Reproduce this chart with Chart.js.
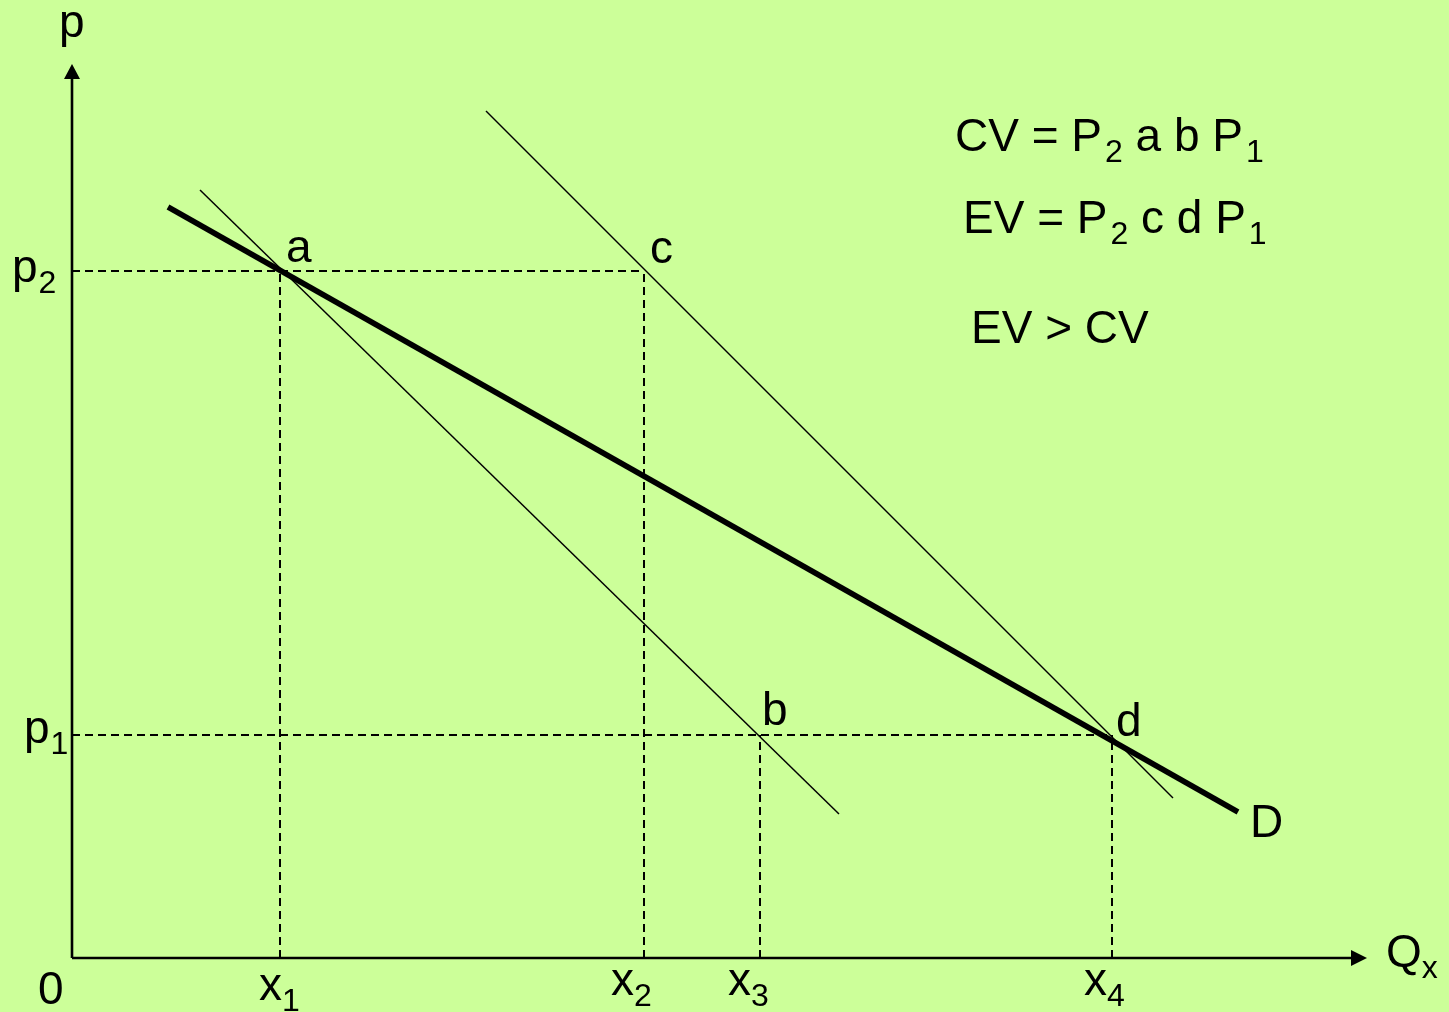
<!DOCTYPE html>
<html>
<head>
<meta charset="utf-8">
<script src="https://cdn.jsdelivr.net/npm/chart.js@4/dist/chart.umd.min.js"></script>
<style>
  html, body { margin: 0; padding: 0; background: #CCFF99; }
  #wrap { width: 1449px; height: 1012px; position: relative; }
</style>
</head>
<body>
<div id="wrap"><canvas id="c"></canvas></div>
<script>
// ---- Data (diagram units, origin at axis origin) ----
const axisQEnd = 1295;           // end of quantity axis (arrow tip)
const axisPEnd = 894;            // end of price axis (arrow tip)

const demandQ = [96, 1166];      // demand curve D endpoints
const demandP = [751, 146];

const compLowQ = [128, 767];     // line through a and b
const compLowP = [768, 144];

const compHighQ = [414, 1101];   // line through c and d
const compHighP = [847, 160];

const pointNames = ['a', 'b', 'c', 'd'];
const pointQ = [208, 688, 572, 1040];
const pointP = [687, 223, 687, 223];

const priceNames = ['p', 'p'];   // p2, p1
const priceSubs = ['2', '1'];
const priceLevels = [687, 223];
const priceExtent = [572, 1040]; // dashed guide reaches c / d

const quantityNames = ['x', 'x', 'x', 'x'];
const quantitySubs = ['1', '2', '3', '4'];
const quantityLevels = [208, 572, 688, 1040];
const quantityHeights = [687, 687, 223, 223];

const noteLines = [
  [['CV = P', 0], ['2', 1], [' a b P', 0], ['1', 1]],
  [['EV = P', 0], ['2', 1], [' c d P', 0], ['1', 1]],
  [['EV > CV', 0]]
];

// ---- Build datasets ----
const pairs = (qs, ps) => qs.map((q, i) => ({ x: q, y: ps[i] }));
const datasets = [];
const thin = { borderColor: '#000', borderWidth: 1.5, showLine: true, pointRadius: 0, fill: false, tension: 0 };
const dashed = { borderColor: '#000', borderWidth: 2, borderDash: [8, 5], showLine: true, pointRadius: 0, fill: false, tension: 0 };

priceLevels.forEach((p, i) => datasets.push(Object.assign({ data: pairs([0, priceExtent[i]], [p, p]) }, dashed)));
quantityLevels.forEach((q, i) => datasets.push(Object.assign({ data: pairs([q, q], [0, quantityHeights[i]]) }, dashed)));
datasets.push(Object.assign({ data: pairs(compLowQ, compLowP) }, thin));
datasets.push(Object.assign({ data: pairs(compHighQ, compHighP) }, thin));
datasets.push(Object.assign({ data: pairs(demandQ, demandP) }, thin, { borderWidth: 5.5 }));
// axes
datasets.push(Object.assign({ data: pairs([0, axisQEnd - 12], [0, 0]) }, thin, { borderWidth: 2.6 }));
datasets.push(Object.assign({ data: pairs([0, 0], [0, axisPEnd - 12]) }, thin, { borderWidth: 2.6 }));

// ---- Label drawing ----
const FONT = '"Liberation Sans", Arial, sans-serif';
const MAIN = 46, SUB = 32, SUBDROP = 11;

function drawRich(ctx, x, y, parts, subGap) {
  let cx = x;
  parts.forEach(([t, isSub]) => {
    if (isSub) cx += (subGap || 0);
    ctx.font = (isSub ? SUB : MAIN) + 'px ' + FONT;
    ctx.fillText(t, cx, y + (isSub ? SUBDROP : 0));
    cx += ctx.measureText(t).width;
  });
}

const labelPlugin = {
  id: 'labels',
  beforeDraw(chart) {
    const ctx = chart.ctx;
    ctx.save();
    ctx.fillStyle = '#CCFF99';
    ctx.fillRect(0, 0, chart.width, chart.height);
    ctx.restore();
  },
  afterDatasetsDraw(chart) {
    const ctx = chart.ctx;
    const X = v => chart.scales.x.getPixelForValue(v);
    const Y = v => chart.scales.y.getPixelForValue(v);
    ctx.save();
    ctx.fillStyle = '#000';
    ctx.textAlign = 'left';
    ctx.textBaseline = 'alphabetic';

    // arrow heads
    ctx.beginPath();
    ctx.moveTo(X(axisQEnd), Y(0));
    ctx.lineTo(X(axisQEnd) - 16, Y(0) - 8);
    ctx.lineTo(X(axisQEnd) - 16, Y(0) + 8);
    ctx.closePath(); ctx.fill();
    ctx.beginPath();
    ctx.moveTo(X(0), Y(axisPEnd));
    ctx.lineTo(X(0) - 8, Y(axisPEnd) + 15);
    ctx.lineTo(X(0) + 8, Y(axisPEnd) + 15);
    ctx.closePath(); ctx.fill();

    // axis names
    drawRich(ctx, X(0) - 13, Y(axisPEnd) - 27, [['p', 0]]);
    drawRich(ctx, X(axisQEnd) + 19, Y(0) + 9, [['Q', 0], ['x', 1]]);
    drawRich(ctx, X(0) - 34, Y(0) + 46, [['0', 0]]);

    // price labels
    const pOff = [[-60, 11], [-48, 8]];
    priceLevels.forEach((p, i) => drawRich(ctx, X(0) + pOff[i][0], Y(p) + pOff[i][1], [[priceNames[i], 0], [priceSubs[i], 1]], 1));

    // quantity labels
    const qOff = [[-21, 42], [-33, 37], [-32, 37], [-28, 37]];
    quantityLevels.forEach((q, i) => drawRich(ctx, X(q) + qOff[i][0], Y(0) + qOff[i][1], [[quantityNames[i], 0], [quantitySubs[i], 1]]));

    // point labels
    const ptOff = [[6, -9], [2, -10], [6, -8], [4, 1]];
    pointNames.forEach((n, i) => drawRich(ctx, X(pointQ[i]) + ptOff[i][0], Y(pointP[i]) + ptOff[i][1], [[n, 0]]));

    // D label
    drawRich(ctx, X(demandQ[1]) + 12, Y(demandP[1]) + 25, [['D', 0]]);

    // notes
    const noteX = [955, 963, 971], noteY = [151, 233, 343];
    noteLines.forEach((ln, i) => drawRich(ctx, noteX[i], noteY[i], ln, 3));
    ctx.restore();
  }
};

new Chart(document.getElementById('c'), {
  type: 'scatter',
  data: { datasets },
  options: {
    responsive: true,
    maintainAspectRatio: false,
    animation: false,
    layout: { padding: 0 },
    plugins: { legend: { display: false }, tooltip: { enabled: false } },
    scales: {
      x: { type: 'linear', min: -72, max: 1377, display: false },
      y: { type: 'linear', min: -54, max: 958, display: false }
    }
  },
  plugins: [labelPlugin]
});
</script>
</body>
</html>
